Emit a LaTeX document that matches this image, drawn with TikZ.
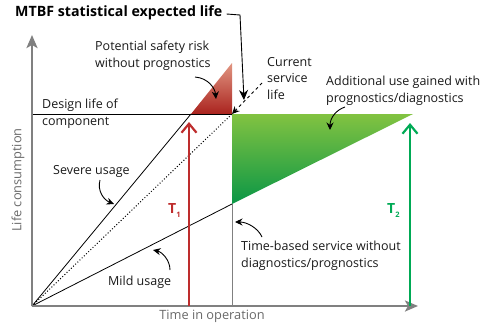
\documentclass[tikz,border=0pt]{standalone}
\usepackage{fontspec}
\setmainfont{Open Sans}
\usetikzlibrary{arrows.meta}
\definecolor{axisgray}{RGB}{128,128,128}
\definecolor{labelgray}{RGB}{105,105,105}
\definecolor{riskred}{RGB}{170,35,30}
\definecolor{riskpink}{RGB}{225,150,130}
\definecolor{tred}{RGB}{190,45,45}
\definecolor{tgreen}{RGB}{0,170,85}
\definecolor{uselight}{RGB}{130,195,65}
\definecolor{usedark}{RGB}{10,150,70}

\begin{document}
\begin{tikzpicture}[x=1pt,y=-1pt,
    axis/.style={draw=axisgray,line width=2.4pt,-{Stealth[length=13pt,width=11pt,inset=3pt]}},
    note/.style={font=\fontsize{12.5}{16.5}\selectfont,align=left,inner sep=0pt,text=black!90},
    pointer/.style={line width=0.9pt,-{Stealth[length=7.5pt,width=7pt]}},
    tarrow/.style={line width=2.2pt,-{Straight Barb[length=9pt,width=15pt]}},
    tlabel/.style={font=\fontsize{14}{14}\selectfont\bfseries,inner sep=0pt}]
\useasboundingbox (0,0) rectangle (492,324);

% Points of the chart
\coordinate (O) at (32,306);
\coordinate (ytop) at (32,35);
\coordinate (xend) at (418,306);
\coordinate (dl) at (32,114);
\coordinate (sev) at (191,114);
\coordinate (cur) at (232,114);
\coordinate (rtop) at (232,63);
\coordinate (mild) at (232,204);
\coordinate (gtip) at (413,114);
\coordinate (cbase) at (232,306);

% Filled regions
\shade[top color=riskpink,bottom color=riskred] (sev) -- (cur) -- (rtop) -- cycle;
\shade[top color=uselight,bottom color=usedark] (cur) -- (gtip) -- (mild) -- cycle;

% Lines
\draw[axisgray,line width=0.9pt] (cbase) -- (mild);
\draw[line width=0.8pt] (dl) -- (cur);
\draw[line width=0.8pt] (O) -- (sev);
\draw[line width=0.8pt] (O) -- (mild);
\draw[line width=1pt,dotted] (O) -- (cur);

% Axes
\draw[axis] (O) -- (ytop);
\draw[axis] (O) -- (xend);
\node[rotate=90,text=labelgray,font=\fontsize{12.8}{13}\selectfont] (ylab) at (18,180) {Life consumption};
\node[text=labelgray,font=\fontsize{12.8}{13}\selectfont] (xlab) at (212,316) {Time in operation};

% T arrows
\coordinate (t1base) at (189,306);
\coordinate (t1top) at (189,122);
\coordinate (t2base) at (410,306);
\coordinate (t2top) at (410,123);
\draw[tarrow,tred] (t1base) -- (t1top);
\draw[tarrow,tgreen] (t2base) -- (t2top);
\node[tlabel,text=tred,anchor=base west] (t1) at (168,213) {T\raisebox{-4pt}{\fontsize{7.5}{8}\selectfont 1}};
\node[tlabel,text=tgreen,anchor=base west] (t2) at (387,213) {T\raisebox{-4pt}{\fontsize{7.5}{8}\selectfont 2}};

% Labels
\node[font=\fontsize{14.2}{15}\selectfont\bfseries,inner sep=0pt,anchor=west] (mtbf) at (15,13) {MTBF statistical expected life};
\node[note,anchor=north west] (risk) at (95,41) {Potential safety risk\\without prognostics};
\node[note,anchor=north west] (design) at (42,99) {Design life of\\component};
\node[note,anchor=north west] (service) at (267,57) {Current\\service\\life};
\node[note,anchor=north west] (extra) at (326,76) {Additional use gained with\\prognostics/diagnostics};
\node[note,anchor=north west] (severe) at (53,165) {Severe usage};
\node[note,anchor=north west] (mildlab) at (108,276) {Mild usage};
\node[note,anchor=north west] (timebased) at (241,241) {Time-based service without\\diagnostics/prognostics};

% Pointers
\coordinate (mtbfbend) at (240,15);
\coordinate (mtbftip) at (244,100);
\draw[pointer,-{Stealth[length=10pt,width=9pt]}] (mtbf.east) ++(4,1) -- (mtbfbend) -- (mtbftip);
\coordinate (servfrom) at (262,83);
\draw[pointer,dashed] (servfrom) -- (cur);
\draw[pointer] (195,77) .. controls (208,78) and (215,88) .. (216,99);
\draw[pointer] (345,107) .. controls (336,110) and (330,118) .. (330,130);
\draw[pointer] (100,180) .. controls (97,191) and (104,200) .. (114,204);
\draw[pointer] (170,270) .. controls (170,260) and (162,252) .. (153,250);
\draw[pointer] (262,237) .. controls (258,228) and (247,222) .. (235,222);
\end{tikzpicture}
\end{document}
